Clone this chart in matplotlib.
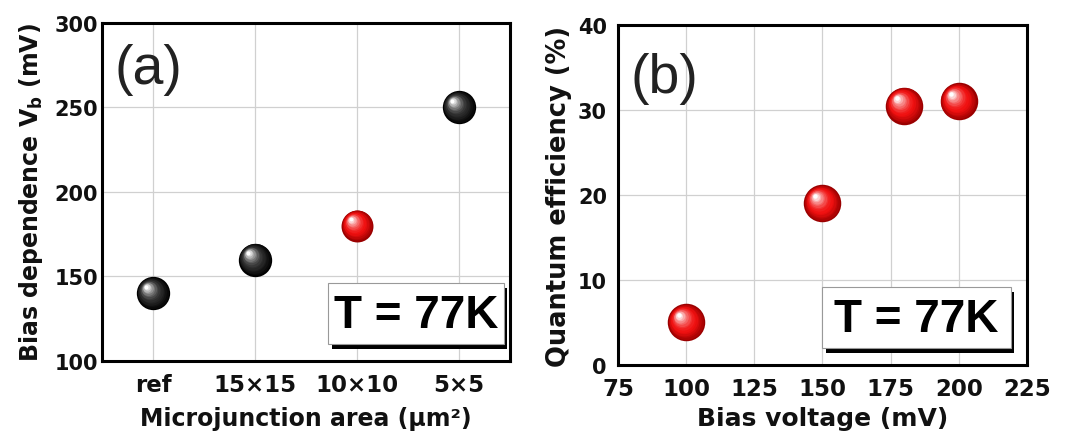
import numpy as np
import matplotlib
matplotlib.use("Agg")
import matplotlib.pyplot as plt
from matplotlib.colors import to_rgb
from matplotlib.transforms import offset_copy
from matplotlib.patches import Rectangle

plt.rcParams["font.family"] = ["DejaVu Sans"]
plt.rcParams["mathtext.fontset"] = "custom"
plt.rcParams["mathtext.rm"] = "DejaVu Sans:bold"
plt.rcParams["mathtext.it"] = "DejaVu Sans:bold"

# --- data: panel (a) ---
AREA_LABELS = ["ref", "15\u00d715", "10\u00d710", "5\u00d75"]
BIAS_DEP = [140, 160, 180, 250]
AREA_COLORS = ["black", "black", "red", "black"]

# --- data: panel (b) ---
BIAS_V = [100, 150, 180, 200]
QE = [5, 19, 30.5, 31]

LABEL_COLOR = "#111111"
ARIAL = ["Liberation Sans", "DejaVu Sans"]


def mix(c1, c2, t):
    a, b = np.array(to_rgb(c1)), np.array(to_rgb(c2))
    return tuple(a + (b - a) * t)


def sphere(ax, x, y, diam, kind):
    """Fake a shaded sphere with stacked shrinking markers."""
    if kind == "red":
        edge, base = "#9a0000", "#f01010"
    else:
        edge, base = "#000000", "#2a2a2a"
    n = 14
    for i in range(n):
        t = i / (n - 1)
        size = diam * (1 - 0.88 * t)
        shift = 0.2 * diam * t
        if t < 0.35:
            col = mix(edge, base, t / 0.35)
        else:
            col = mix(base, "white", ((t - 0.35) / 0.65) ** 1.6)
        tr = offset_copy(ax.transData, fig=ax.figure, x=-shift, y=shift, units="points")
        ax.plot([x], [y], "o", ms=size, color=col, mec="none", transform=tr, zorder=3 + i * 0.01)


def temp_box(ax, x0, y0, w, h):
    """White box with drop shadow and 'T = 77K' text, axes coords."""
    ax.add_patch(Rectangle((x0 + 0.008, y0 - 0.014), w, h, transform=ax.transAxes,
                           facecolor="black", edgecolor="none", zorder=5))
    ax.add_patch(Rectangle((x0, y0), w, h, transform=ax.transAxes,
                           facecolor="white", edgecolor="#999999", lw=0.8, zorder=6))
    ax.text(x0 + w / 2, y0 + h / 2 - 0.005, "T = 77K", transform=ax.transAxes, ha="center",
            va="center", fontsize=33, fontweight="bold", color="black", zorder=7, family=ARIAL)


def style_axes(ax, xsize, ypad):
    for s in ax.spines.values():
        s.set_linewidth(2.2)
        s.set_color("black")
    ax.grid(True, color="#d0d0d0", linewidth=0.9)
    ax.set_axisbelow(True)
    ax.tick_params(length=0, labelcolor=LABEL_COLOR)
    ax.tick_params(axis="y", pad=ypad)
    ax.tick_params(axis="x", pad=9)
    for lab in ax.get_yticklabels():
        lab.set_fontweight("bold")
        lab.set_fontsize(15)
    for lab in ax.get_xticklabels():
        lab.set_fontweight("bold")
        lab.set_fontsize(xsize)


fig = plt.figure(figsize=(10.65, 4.39), dpi=100, facecolor="white")
ax1 = fig.add_axes([0.0958, 0.1754, 0.3831, 0.770])
ax2 = fig.add_axes([0.5803, 0.1663, 0.384, 0.7745])

# panel (a)
xpos = np.arange(len(AREA_LABELS))
ax1.set_xlim(-0.5, len(AREA_LABELS) - 0.5)
ax1.set_ylim(100, 300)
ax1.set_xticks(xpos)
ax1.set_xticklabels(AREA_LABELS)
ax1.set_yticks([100, 150, 200, 250, 300])
style_axes(ax1, 16.5, 3)
for xi, yi, c in zip(xpos, BIAS_DEP, AREA_COLORS):
    sphere(ax1, xi, yi, 23 if c == "red" else 24, c)
ax1.set_xlabel("Microjunction area (\u03bcm\u00b2)", fontsize=17, fontweight="bold",
               color=LABEL_COLOR, labelpad=7)
ax1.set_ylabel("Bias dependence V$_{\\mathrm{b}}$ (mV)", fontsize=17, fontweight="bold",
               color=LABEL_COLOR, labelpad=7)
ax1.text(0.03, 0.865, "(a)", transform=ax1.transAxes, fontsize=40, ha="left", va="center",
         color="#222222", family=ARIAL)
temp_box(ax1, 0.555, 0.05, 0.43, 0.18)

# panel (b)
ax2.set_xlim(75, 225)
ax2.set_ylim(0, 40)
ax2.set_xticks([75, 100, 125, 150, 175, 200, 225])
ax2.set_yticks([0, 10, 20, 30, 40])
style_axes(ax2, 16.5, 8)
for xi, yi in zip(BIAS_V, QE):
    sphere(ax2, xi, yi, 27, "red")
ax2.set_xlabel("Bias voltage (mV)", fontsize=18, fontweight="bold", color=LABEL_COLOR, labelpad=4)
ax2.set_ylabel("Quantum efficiency (%)", fontsize=18.5, fontweight="bold", color=LABEL_COLOR, labelpad=4)
ax2.text(0.03, 0.845, "(b)", transform=ax2.transAxes, fontsize=40, ha="left", va="center",
         color="#222222", family=ARIAL)
temp_box(ax2, 0.5, 0.05, 0.46, 0.18)

fig.savefig("out.png", dpi=100, facecolor="white")
